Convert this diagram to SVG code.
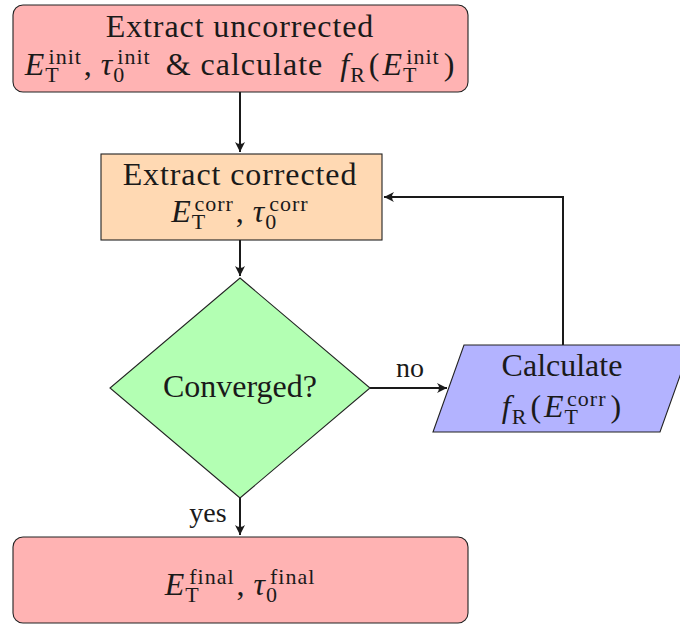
<svg xmlns="http://www.w3.org/2000/svg" width="680" height="626" viewBox="0 0 680 626">
<style>
.t{font-family:"Liberation Serif","Times New Roman",serif;font-size:32px;fill:#1a1a1a;text-anchor:middle}
.w{letter-spacing:0.9px}
.m{letter-spacing:1px}
.i{font-style:italic}
.s{font-size:22px}
.n{stroke:#222;stroke-width:1.1}
.c{fill:none;stroke:#1a1a1a;stroke-width:2}
</style>
<defs>
<marker id="ah" viewBox="-11 -6 12 12" refX="0" refY="0" markerWidth="12" markerHeight="12" markerUnits="userSpaceOnUse" orient="auto">
<path d="M0,0 L-10,-5 Q-6,0 -10,5 Z" fill="#1a1a1a"/>
</marker>
</defs>
<g id="connectors">
<path class="c" d="M240,92 V152" marker-end="url(#ah)"/>
<path class="c" d="M240,240 V276" marker-end="url(#ah)"/>
<path class="c" d="M370,388 H447" marker-end="url(#ah)"/>
<path class="c" d="M563,345 V197 H384" marker-end="url(#ah)"/>
<path class="c" d="M240,498 V535" marker-end="url(#ah)"/>
<text class="t" x="410" y="377" style="font-size:28px">no</text>
<text class="t" x="208" y="522" style="font-size:28px">yes</text>
</g>
<g id="start">
<rect class="n" x="13" y="5" width="455" height="87" rx="10" fill="#ffb3b3"/>
<text class="t w" x="240" y="37">Extract uncorrected</text>
<text class="t m" x="240" y="75"><tspan class="i">E</tspan><tspan class="s" dy="7">T</tspan><tspan class="s" dx="-10.4" dy="-18">init</tspan><tspan dx="2" dy="11">,</tspan><tspan class="i" dx="8">τ</tspan><tspan class="s" dy="7">0</tspan><tspan class="s" dx="-8" dy="-18">init</tspan><tspan dx="6" dy="11"> &amp; calculate </tspan><tspan class="i" dx="8">f</tspan><tspan class="s" dy="7">R</tspan><tspan dx="3" dy="-7">(</tspan><tspan class="i" dx="2">E</tspan><tspan class="s" dy="7">T</tspan><tspan class="s" dx="-10.4" dy="-18">init</tspan><tspan dx="4" dy="11">)</tspan></text>
</g>
<g id="extract">
<rect class="n" x="101" y="154" width="281" height="86" fill="#ffd9b3"/>
<text class="t w" x="240" y="185">Extract corrected</text>
<text class="t m" x="240" y="222"><tspan class="i">E</tspan><tspan class="s" dy="7">T</tspan><tspan class="s" dx="-10.4" dy="-18">corr</tspan><tspan dx="2" dy="11">,</tspan><tspan class="i" dx="8">τ</tspan><tspan class="s" dy="7">0</tspan><tspan class="s" dx="-8" dy="-18">corr</tspan></text>
</g>
<g id="converged">
<polygon class="n" points="240,278 370,388 240,498 110,388" fill="#b3ffb3"/>
<text class="t" x="240" y="397">Converged?</text>
</g>
<g id="calculate">
<polygon class="n" points="464,345 691,345 660,432 433,432" fill="#b3b3ff"/>
<text class="t" x="562" y="376">Calculate</text>
<text class="t m" x="562" y="417"><tspan class="i">f</tspan><tspan class="s" dy="7">R</tspan><tspan dx="3" dy="-7">(</tspan><tspan class="i" dx="2">E</tspan><tspan class="s" dy="7">T</tspan><tspan class="s" dx="-10.4" dy="-18">corr</tspan><tspan dx="4" dy="11">)</tspan></text>
</g>
<g id="final">
<rect class="n" x="13" y="537" width="455" height="86" rx="10" fill="#ffb3b3"/>
<text class="t m" x="240" y="595"><tspan class="i">E</tspan><tspan class="s" dy="7">T</tspan><tspan class="s" dx="-10.4" dy="-18">final</tspan><tspan dx="2" dy="11">,</tspan><tspan class="i" dx="8">τ</tspan><tspan class="s" dy="7">0</tspan><tspan class="s" dx="-8" dy="-18">final</tspan></text>
</g>
</svg>
